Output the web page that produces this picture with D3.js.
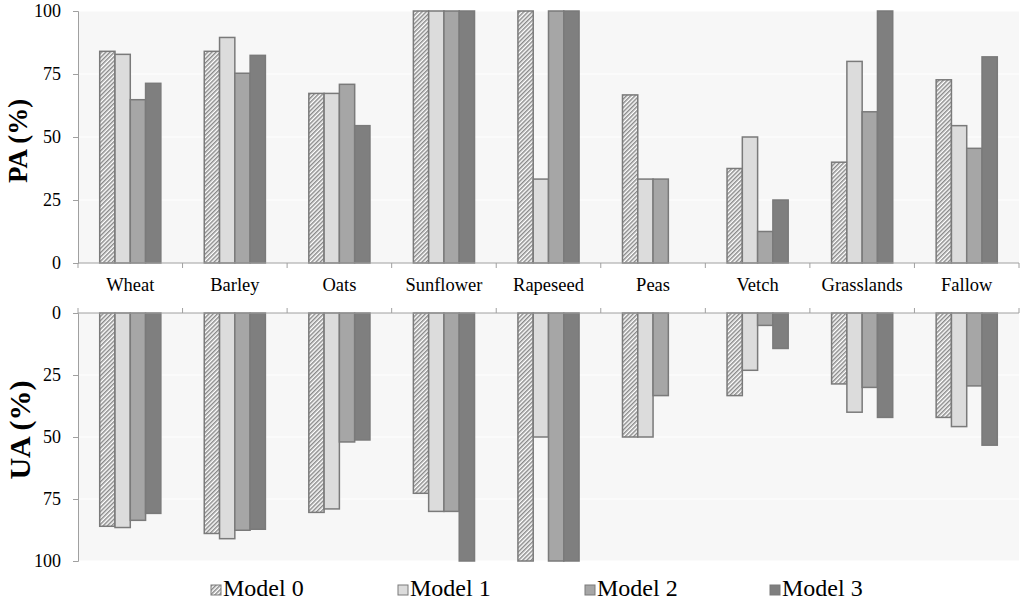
<!DOCTYPE html>
<html>
<head>
<meta charset="utf-8">
<script src="https://cdn.jsdelivr.net/npm/d3@7"></script>
<style>
  body { margin: 0; background: #fff; }
</style>
</head>
<body>
<div id="chart"></div>
<script>
// crop classes and the four models
var crops = ["Wheat", "Barley", "Oats", "Sunflower", "Rapeseed", "Peas", "Vetch", "Grasslands", "Fallow"]
var models = ["Model 0", "Model 1", "Model 2", "Model 3"]
var yTicks = [0, 25, 50, 75, 100]

// producer's accuracy (top panel), one array per model
var pa0 = [84, 84, 67.3, 100, 100, 66.7, 37.5, 40, 72.7]
var pa1 = [82.8, 89.5, 67.3, 100, 33.3, 33.3, 50, 80, 54.5]
var pa2 = [64.8, 75.3, 70.9, 100, 100, 33.3, 12.5, 60, 45.5]
var pa3 = [71.3, 82.4, 54.5, 100, 100, 0, 25, 100, 81.8]

// user's accuracy (bottom panel, drawn downwards)
var ua0 = [86, 88.9, 80.4, 72.7, 100, 50, 33.3, 28.6, 42.1]
var ua1 = [86.5, 91, 79, 80, 50, 50, 23.1, 40, 45.8]
var ua2 = [83.6, 87.6, 52, 80, 100, 33.3, 5, 30, 29.4]
var ua3 = [80.8, 87.2, 51.2, 100, 100, 0, 14.3, 42.1, 53.3]

var paData = [pa0, pa1, pa2, pa3]
var uaData = [ua0, ua1, ua2, ua3]

var fills = ["url(#hatch)", "#dcdcdc", "#a6a6a6", "#7f7f7f"]
var serif = "Liberation Serif"

var svgSize = { width: 1024, height: 605 }

var svg = d3.select("#chart").append("svg")
    .attr("width", svgSize.width)
    .attr("height", svgSize.height)
    .attr("font-family", serif)

var defs = svg.append("defs")
var pat = defs.append("pattern")
    .attr("id", "hatch")
    .attr("patternUnits", "userSpaceOnUse")
    .attr("width", 3)
    .attr("height", 3)
    .attr("patternTransform", "rotate(45)")
pat.append("rect").attr("width", 3).attr("height", 3).attr("fill", "#ffffff")
pat.append("rect").attr("width", 1.5).attr("height", 3).attr("fill", "#8a8a8a")

var xScale = d3.scaleBand().domain(crops).range([78, 1019])
var xSub = d3.scaleBand().domain(models).range([0, xScale.bandwidth()]).paddingOuter(1.42)

var yTop = d3.scaleLinear().domain([0, 100]).range([263, 11])
var yBot = d3.scaleLinear().domain([0, 100]).range([313, 561])

function panel(yScale, data, title, titleY, titleSize, down) {
    var g = svg.append("g")
    var y0 = yScale(0), y1 = yScale(100)

    // plot background and gridlines
    g.append("rect")
        .attr("x", 78).attr("y", Math.min(y0, y1))
        .attr("width", 1019 - 78).attr("height", Math.abs(y1 - y0))
        .attr("fill", "#f7f7f7")
    g.selectAll(".grid").data(yTicks.slice(1)).enter().append("line")
        .attr("x1", 78).attr("x2", 1019)
        .attr("y1", d => yScale(d)).attr("y2", d => yScale(d))
        .attr("stroke", "#ffffff").attr("stroke-width", 1.2)

    // bars
    data.forEach((vals, mi) => {
        g.selectAll(".bar" + mi).data(crops.map((c, i) => ({ crop: c, v: vals[i] })).filter(d => d.v > 0))
            .enter().append("rect")
            .attr("x", d => xScale(d.crop) + xSub(models[mi]))
            .attr("width", xSub.bandwidth())
            .attr("y", d => Math.min(yScale(0), yScale(d.v)))
            .attr("height", d => Math.abs(yScale(d.v) - yScale(0)))
            .attr("fill", fills[mi])
            .attr("stroke", "#7a7a7a")
            .attr("stroke-width", 1.5)
    })

    // left axis
    var leftAxis = d3.axisLeft(yScale).tickValues(yTicks).tickSize(5).tickPadding(12)
    var ax = g.append("g").attr("transform", "translate(78,0)").call(leftAxis)
    ax.attr("font-family", serif).attr("font-size", 18)
    ax.select(".domain").attr("stroke", "#a0a0a0")
    ax.selectAll(".tick line").attr("stroke", "#a0a0a0")
    ax.selectAll(".tick text")
        .attr("font-family", serif)
        .attr("fill", "#000")

    // category axis at the zero line, ticks on band edges
    g.append("line")
        .attr("x1", 78).attr("x2", 1019)
        .attr("y1", y0).attr("y2", y0)
        .attr("stroke", "#a0a0a0")
    var edges = crops.map(c => xScale(c)).concat([xScale.range()[1]])
    g.selectAll(".edge").data(edges).enter().append("line")
        .attr("x1", d => d).attr("x2", d => d)
        .attr("y1", y0).attr("y2", down ? y0 - 5 : y0 + 5)
        .attr("stroke", "#a0a0a0")

    // axis title
    g.append("text")
        .attr("transform", "translate(" + (down ? 30 : 27) + "," + titleY + ") rotate(-90)")
        .attr("text-anchor", "middle")
        .attr("font-family", serif)
        .attr("font-weight", "bold")
        .attr("font-size", titleSize)
        .text(title)
}

panel(yTop, paData, "PA (%)", 141, 27, false)
panel(yBot, uaData, "UA (%)", 430, 30, true)

// category labels between the two panels
svg.selectAll(".crop").data(crops).enter().append("text")
    .attr("x", d => xScale(d) + xScale.bandwidth() / 2)
    .attr("y", 291)
    .attr("text-anchor", "middle")
    .attr("font-family", serif)
    .attr("font-size", 18.5)
    .text(d => d)

// legend
var legendX = [211, 398, 585, 770]
var leg = svg.selectAll(".leg").data(models).enter().append("g")
    .attr("transform", (d, i) => "translate(" + legendX[i] + ",585)")
leg.append("rect")
    .attr("width", 10).attr("height", 10)
    .attr("fill", (d, i) => fills[i])
    .attr("stroke", "#7a7a7a")
leg.append("text")
    .attr("x", 12).attr("y", 11)
    .attr("font-family", serif)
    .attr("font-size", 24)
    .text(d => d)
</script>
</body>
</html>
